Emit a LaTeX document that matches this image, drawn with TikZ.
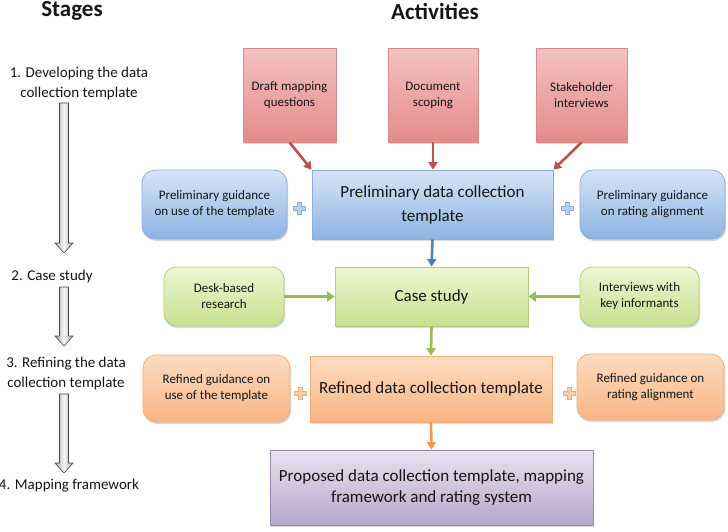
\documentclass[tikz,border=0pt]{standalone}
\usepackage{fontspec}
\setmainfont{Carlito}
\usetikzlibrary{shadows,arrows.meta,calc}
\definecolor{redtop}{HTML}{F5C2C2}
\definecolor{redbot}{HTML}{E58A8A}
\definecolor{redline}{HTML}{D98A8A}
\definecolor{redarrow}{HTML}{C0504D}
\definecolor{bluetop}{HTML}{D6E4F6}
\definecolor{bluebot}{HTML}{8DB3E2}
\definecolor{blueline}{HTML}{8FAED6}
\definecolor{bluearrow}{HTML}{4F81BD}
\definecolor{greentop}{HTML}{EDF7D2}
\definecolor{greenbot}{HTML}{C6E190}
\definecolor{greenline}{HTML}{B2CF7A}
\definecolor{greenarrow}{HTML}{9BBB59}
\definecolor{orangetop}{HTML}{FCDCC2}
\definecolor{orangebot}{HTML}{F8B583}
\definecolor{orangeline}{HTML}{F2AE78}
\definecolor{orangearrow}{HTML}{F79646}
\definecolor{purpletop}{HTML}{E9E3F0}
\definecolor{purplebot}{HTML}{B6A5CB}
\definecolor{purpleline}{HTML}{9C86B9}
\definecolor{txt}{HTML}{151515}
\tikzset{
  pics/plusmark/.style={code={
    \draw[draw=#1line, fill=#1top!60!#1bot, line width=0.7pt]
      (-2,-6) -- (2,-6) -- (2,-2) -- (6,-2) -- (6,2) -- (2,2) -- (2,6)
      -- (-2,6) -- (-2,2) -- (-6,2) -- (-6,-2) -- (-2,-2) -- cycle;}}
}
\newcommand\blockarrow[2]{%
  \draw[stagearrowstyle] ($(#1)+(-4.5,0)$) -- ($(#1)+(4.5,0)$) -- ($(#2)+(4.5,-10)$)
    -- ($(#2)+(9,-10)$) -- (#2) -- ($(#2)+(-9,-10)$) -- ($(#2)+(-4.5,-10)$) -- cycle;}
\begin{document}
\begin{tikzpicture}[x=1pt,y=-1pt,
  every node/.style={text=txt, inner sep=0pt, align=center},
  boxbase/.style={line width=0.8pt, drop shadow={opacity=0.3, shadow xshift=1.2pt, shadow yshift=-2pt}},
  smalltext/.style={font=\fontsize{13}{16}\selectfont},
  bigtext/.style={font=\fontsize{17}{24}\selectfont},
  redbox/.style={boxbase, draw=redline, top color=redtop, bottom color=redbot, smalltext},
  bluemain/.style={boxbase, draw=blueline, top color=bluetop, bottom color=bluebot, bigtext},
  blueside/.style={boxbase, draw=blueline, top color=bluetop, bottom color=bluebot, rounded corners=13pt, smalltext},
  greenmain/.style={boxbase, draw=greenline, top color=greentop, bottom color=greenbot, bigtext},
  greenside/.style={boxbase, draw=greenline, top color=greentop, bottom color=greenbot, rounded corners=12pt, smalltext},
  orangemain/.style={boxbase, draw=orangeline, top color=orangetop, bottom color=orangebot, bigtext},
  orangeside/.style={boxbase, draw=orangeline, top color=orangetop, bottom color=orangebot, rounded corners=13pt, smalltext},
  purplebox/.style={boxbase, draw=purpleline, top color=purpletop, bottom color=purplebot, font=\fontsize{17}{21}\selectfont},
  stagetext/.style={font=\fontsize{15}{20}\selectfont},
  titletext/.style={font=\fontsize{23}{26}\selectfont\bfseries},
  stagearrowstyle/.style={draw=gray!55!black, line width=0.6pt, line join=miter,
    left color=gray!65, right color=gray!65, middle color=gray!8},
  conn/.style={line width=2.6pt, -{Triangle[length=7.5pt,width=9pt]}},
  connthick/.style={line width=3.6pt, -{Triangle[length=7.5pt,width=10pt]}}
]
\useasboundingbox (0,0) rectangle (728,531);

% titles
\node[titletext] (tstages) at (72,11) {Stages};
\node[titletext] (tact) at (435,11) {Activities};

% stages column
\node[stagetext] (s1) at (79,83) {1. Developing the data\\collection template};
\node[stagetext] (s2) at (52,276) {2. Case study};
\node[stagetext] (s3) at (66,373) {3. Refining the data\\collection template};
\node[stagetext] (s4) at (69,486) {4. Mapping framework};
\coordinate (a1t) at (64,103);
\coordinate (a1b) at (64,253);
\coordinate (a2t) at (64,287);
\coordinate (a2b) at (64,346);
\coordinate (a3t) at (64,394);
\coordinate (a3b) at (64,473);
\blockarrow{a1t}{a1b}
\blockarrow{a2t}{a2b}
\blockarrow{a3t}{a3b}

% red boxes
\node[redbox, minimum width=93pt, minimum height=94pt] (r1) at (289.5,95) {Draft mapping\\questions};
\node[redbox, minimum width=90pt, minimum height=94pt] (r2) at (433,95) {Document\\scoping};
\node[redbox, minimum width=91pt, minimum height=94pt] (r3) at (581.5,95) {Stakeholder\\interviews};

% blue row
\node[bluemain, minimum width=241pt, minimum height=69pt] (bm) at (432.5,204.5) {Preliminary data collection\\template};
\node[blueside, minimum width=145pt, minimum height=69pt] (bl) at (214.5,204.5) {Preliminary guidance\\on use of the template};
\node[blueside, minimum width=145pt, minimum height=69pt] (br) at (652.5,204.5) {Preliminary guidance\\on rating alignment};
\pic at (299,208) {plusmark=blue};
\pic at (567,208) {plusmark=blue};

% green row
\node[greenmain, minimum width=193pt, minimum height=59pt] (gm) at (431.5,296.5) {Case study};
\node[greenside, minimum width=120pt, minimum height=59pt] (gl) at (224,296.5) {Desk-based\\research};
\node[greenside, minimum width=119pt, minimum height=59pt] (gr) at (639.5,296.5) {Interviews with\\key informants};

% orange row
\node[orangemain, minimum width=242pt, minimum height=66pt] (om) at (431,389) {Refined data collection template};
\node[orangeside, minimum width=147pt, minimum height=67pt] (ol) at (216.5,388.5) {Refined guidance on\\use of the template};
\node[orangeside, minimum width=147pt, minimum height=66pt] (or) at (650.5,387) {Refined guidance on\\rating alignment};
\pic at (300,393) {plusmark=orange};
\pic at (569,393) {plusmark=orange};

% purple
\node[purplebox, minimum width=323pt, minimum height=75pt] (pu) at (431.5,487.5) {Proposed data collection template, mapping\\framework and rating system};

% connectors
\draw[conn, redarrow] (r1.south) -- (bm.north west);
\draw[conn, redarrow] (r2.south) -- (bm.north -| r2.south);
\draw[conn, redarrow] (r3.south) -- (bm.north east);
\draw[conn, bluearrow] (bm.south) -- (gm.north);
\draw[connthick, greenarrow] (gl.east) -- (gm.west);
\draw[connthick, greenarrow] (gr.west) -- (gm.east);
\draw[conn, greenarrow] (gm.south) -- (om.north);
\draw[conn, orangearrow] (om.south) -- (pu.north);
\end{tikzpicture}
\end{document}
